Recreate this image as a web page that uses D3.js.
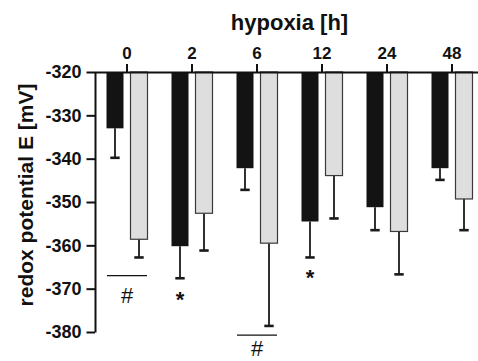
<!DOCTYPE html>
<html>
<head>
<meta charset="utf-8">
<script src="https://cdn.jsdelivr.net/npm/d3@7"></script>
<style>
  html, body { margin: 0; padding: 0; background: #fff; }
  svg { display: block; }
  text { font-family: "Liberation Sans", Arial, Helvetica, sans-serif; }
</style>
</head>
<body>
<svg id="chart" width="478" height="361"></svg>
<script>
// Hours of hypoxia (categories along the top axis)
const hours = ["0", "2", "6", "12", "24", "48"];
const series = ["dark", "light"];

// Mean redox potential (mV) and downward error (mV) for each series
const darkMean  = [-333.0, -360.2, -342.2, -354.5, -351.2, -342.2];
const darkErr   = [6.8, 7.4, 5.0, 8.3, 5.3, 2.7];
const lightMean = [-358.6, -352.6, -359.5, -343.9, -356.8, -349.3];
const lightErr  = [4.2, 8.6, 19.1, 9.9, 9.9, 7.2];

// Y axis ticks
const yTicks = [-320, -330, -340, -350, -360, -370, -380];

// Significance marks: "#" with a bar above it spanning a group, "*" under one bar
// (levels are in mV; star levels give the text baseline)
const hashMarks = [ { hour: "0", lineAt: -367.0, textAt: -371.5 },
                    { hour: "6", lineAt: -380.7, textAt: -383.8 } ];
const starMarks = [ { hour: "2", series: "dark", at: -374.3 },
                    { hour: "12", series: "dark", at: -369.2 } ];

const colors = { dark: "#131313", light: "#dedede" };

const svg = d3.select("#chart");
const plotLeft = 94.5, plotTop = 72, plotBottom = 332;

const x0 = d3.scaleBand().domain(hours).range([plotLeft, plotLeft + 65 * hours.length]);
const x1 = d3.scaleBand().domain(series).range([12, 53]).paddingInner(0.292);
const y = d3.scaleLinear().domain([-320, -380]).range([plotTop, plotBottom]);

const rows = hours.map((h, i) => ({
  hour: h,
  bars: [
    { key: "dark", mean: darkMean[i], err: darkErr[i] },
    { key: "light", mean: lightMean[i], err: lightErr[i] }
  ]
}));

// Bars hang down from the -320 baseline
const groups = svg.append("g").selectAll("g").data(rows).join("g")
  .attr("transform", d => `translate(${x0(d.hour)},0)`);

// Error whiskers (drawn below the bars)
groups.selectAll("g.err").data(d => d.bars).join("g").attr("class", "err")
  .each(function (d) {
    const g = d3.select(this);
    const cx = x1(d.key) + x1.bandwidth() / 2;
    g.append("line")
      .attr("x1", cx).attr("x2", cx)
      .attr("y1", y(d.mean)).attr("y2", y(d.mean - d.err))
      .attr("stroke", "#1a1a1a").attr("stroke-width", 1.8);
    g.append("line")
      .attr("x1", cx - 4.7).attr("x2", cx + 4.7)
      .attr("y1", y(d.mean - d.err)).attr("y2", y(d.mean - d.err))
      .attr("stroke", "#1a1a1a").attr("stroke-width", 2.6);
  });

groups.selectAll("rect").data(d => d.bars).join("rect")
  .attr("x", d => x1(d.key))
  .attr("width", x1.bandwidth())
  .attr("y", y(-320))
  .attr("height", d => y(d.mean) - y(-320))
  .attr("fill", d => colors[d.key])
  .attr("stroke", d => d.key === "light" ? "#3a3a3a" : "none")
  .attr("stroke-width", 1.2);

// Left axis (plain hyphen for the minus sign)
const yAxis = svg.append("g")
  .attr("transform", `translate(${plotLeft + 0.5},0)`)
  .call(d3.axisLeft(y).tickValues(yTicks).tickSize(8.5).tickSizeOuter(0).tickPadding(5)
    .tickFormat(d => String(d)));
yAxis.selectAll("path, line").attr("stroke", "#111").attr("stroke-width", 2);
yAxis.selectAll("text").attr("font-size", 18).attr("font-weight", "bold").attr("fill", "#111");

// Top axis with hour labels
const xAxis = svg.append("g")
  .attr("transform", `translate(0,${plotTop})`)
  .call(d3.axisTop(x0).tickSize(8).tickSizeOuter(0).tickPadding(5));
xAxis.selectAll("path, line").attr("stroke", "#111").attr("stroke-width", 2);
xAxis.selectAll("text").attr("font-size", 17).attr("font-weight", "bold").attr("fill", "#111");

// Titles
svg.append("text")
  .attr("x", (x0.range()[0] + x0.range()[1]) / 2).attr("y", 30)
  .attr("text-anchor", "middle").attr("font-size", 22).attr("font-weight", "bold")
  .attr("fill", "#111").text("hypoxia [h]");

svg.append("text")
  .attr("transform", "translate(33,195) rotate(-90)")
  .attr("text-anchor", "middle").attr("font-size", 21).attr("font-weight", "bold")
  .attr("fill", "#111").text("redox potential E [mV]");

// Significance marks
const marks = svg.append("g");
hashMarks.forEach(m => {
  const cx = x0(m.hour) + x0.bandwidth() / 2;
  marks.append("line")
    .attr("x1", cx - 20).attr("x2", cx + 20)
    .attr("y1", y(m.lineAt)).attr("y2", y(m.lineAt))
    .attr("stroke", "#111").attr("stroke-width", 1.2);
  marks.append("text")
    .attr("x", cx).attr("y", y(m.textAt))
    .attr("text-anchor", "middle").attr("dominant-baseline", "central")
    .attr("font-size", 22).attr("fill", "#111").text("#");
});
starMarks.forEach(m => {
  const cx = x0(m.hour) + x1(m.series) + x1.bandwidth() / 2;
  marks.append("text")
    .attr("x", cx).attr("y", y(m.at))
    .attr("text-anchor", "middle")
    .attr("font-size", 22).attr("font-weight", "bold").attr("fill", "#111").text("*");
});
</script>
</body>
</html>
